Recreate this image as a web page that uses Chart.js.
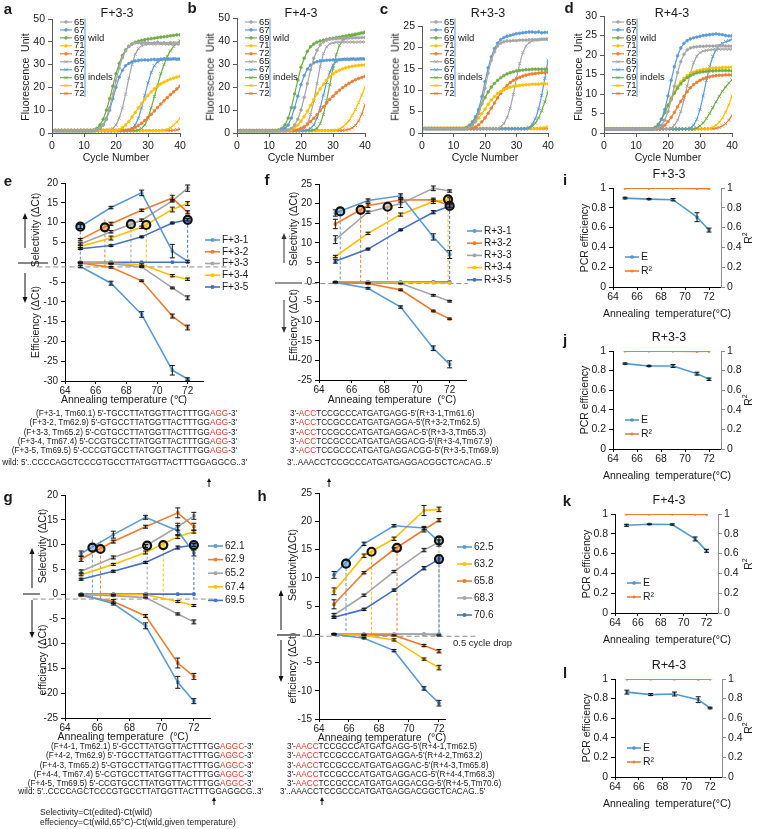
<!DOCTYPE html>
<html>
<head>
<meta charset="utf-8">
<title>Amplification, selectivity and efficiency</title>
<script src="https://cdn.jsdelivr.net/npm/chart.js@4.4.1/dist/chart.umd.min.js"></script>
<style>
  html, body { margin: 0; padding: 0; background: #fff; }
  body { position: relative; width: 757px; height: 829px; overflow: hidden;
         font-family: "Liberation Sans", Arial, sans-serif; color: #1a1a1a; }
  canvas { position: absolute; }
  .t { position: absolute; white-space: nowrap; line-height: 1; }
  .red { color: #E5332A; }
  svg.over { position: absolute; left: 0; top: 0; }
</style>
</head>
<body>
<script>
/* Multi-panel figure: qPCR curves (a-d), selectivity / efficiency vs annealing
   temperature (e-h), PCR efficiency and R2 (i-l). One Chart.js canvas per panel. */

// ---------------- data ----------------
var CYCLES = [1,2,3,4,5,6,7,8,9,10,11,12,13,14,15,16,17,18,19,20,21,22,23,24,25,26,27,28,29,30,31,32,33,34,35,36,37,38,39,40];
var AMP_TEMPS = ['65', '67', '69', '71', '72'];
var AMP_COLORS = ['#A5A5A5', '#5B9BD5', '#70AD47', '#FFC000', '#ED7D31'];

// a: F+3-3
var aWild65 = [1.1,1.1,1.1,1.1,1.1,1.1,1.1,1.1,1.1,1.1,1.1,1.1,1.2,1.4,2.1,3.6,6.5,11,17,23,28.5,33,36,38,39,39.5,39.6,39.4,39.7,39.5,39.3,39.5,39.8,39.4,39.6,39.3,39.6,39.5,39.3,39.5];
var aWild67 = [1,1,1,1,1,1,1,1,1,1,1,1,1,1.3,2,3.5,6,10,15,20,24.5,27.5,29.5,30.5,31.2,31.6,31.8,32,32.1,32,32.2,32.3,32.2,32.4,32.5,32.3,32.4,32.5,32.3,32.4];
var aWild69 = [1,1,1,1,1,1,1,1,1,1,1,1,1.3,2,3.5,6,10,15,20.5,26,30.5,34,36.5,38,39,39.8,40.3,40.6,40.9,41.2,41.4,41.6,41.8,42,42.2,42.4,42.6,42.8,43,43.1];
var aWild71 = [1.1,1.1,1.1,1.1,1.1,1.1,1.1,1.1,1.1,1.1,1.1,1.1,1.1,1.1,1.1,1.1,1.1,1.1,1.1,1.1,1.5,2.3,3.5,5,7,9,11,13,14.8,16.5,18,19.3,20.5,21.5,22.3,23,23.6,24.1,24.5,24.9];
var aWild72 = [1.2,1.2,1.2,1.2,1.2,1.2,1.2,1.2,1.2,1.2,1.2,1.2,1.2,1.2,1.2,1.2,1.2,1.2,1.2,1.2,1.2,1.2,1.2,1.4,1.8,2.5,3.3,4.3,5.5,6.8,8.2,9.7,11.2,12.7,14.1,15.5,16.8,18,19.3,20.5];
var aIndel65 = [1,1,1,1,1,1,1,1,1,1,1,1,1,1,1,1,1,1.3,2,3.5,6.5,11,17,24,30,34.5,37,38.3,38.8,39,39.2,39,39.1,39.2,39,38.9,39,39.1,38.9,39];
var aIndel67 = [1,1,1,1,1,1,1,1,1,1,1,1,1,1,1,1,1,1,1,1,1,1,1,1.3,2,3.5,6.5,11,16.5,22,26.5,29.5,31.2,32,32.3,32.5,32.4,32.5,32.6,32.5];
var aIndel69 = [1,1,1,1,1,1,1,1,1,1,1,1,1,1,1,1,1,1,1,1,1,1,1,1,1,1,1.3,2,3.5,6.5,11,16,21,26,30,33.5,36,38,39.5,40.5];
var aIndel71 = [1,1,1,1,1,1,1,1,1,1,1,1,1,1,1,1,1,1,1,1,1,1,1,1,1,1,1,1,1,1,1,1,1,1,1.2,1.6,2.3,3.4,4.8,6.5];
var aIndel72 = [1.1,1.1,1.1,1.1,1.1,1.1,1.1,1.1,1.1,1.1,1.1,1.1,1.1,1.1,1.1,1.1,1.1,1.1,1.1,1.1,1.1,1.1,1.1,1.1,1.1,1.1,1.1,1.1,1.1,1.1,1.1,1.1,1.1,1.1,1.1,1.1,1.1,1.2,1.4,1.7];

// b: F+4-3
var bWild65 = [1,1,1,1,1,1,1,1,1,1,1,1,1,1,1,1.3,2,3.5,6,10,15.5,21.5,27.5,32.5,36,38.3,39.6,40.3,40.7,40.9,41,41.1,41.2,41.2,41.3,41.3,41.4,41.4,41.5,41.5];
var bWild67 = [1,1,1,1,1,1,1,1,1,1,1,1,1,1.3,2,3.5,6.5,11,16,21,25,27.8,29.5,30.5,31,31.3,31.5,31.6,31.7,31.8,31.8,31.9,32,32,32,32.1,32,32.1,32.2,32.1];
var bWild69 = [1,1,1,1,1,1,1,1,1,1,1,1,1.3,2,3.5,6.5,11,17,23,28.5,32.5,35.5,37.5,38.7,39.5,40,40.4,40.7,41,41.2,41.5,41.7,42,42.2,42.5,42.7,43,43.2,43.5,43.8];
var bWild71 = [1,1,1,1,1,1,1,1,1,1,1,1,1,1,1,1,1.4,2.2,3.5,5.2,7.2,9.5,12,14.5,17,19.2,21.2,23,24.5,25.7,26.6,27.3,27.9,28.3,28.7,29,29.2,29.4,29.5,29.6];
var bWild72 = [1.1,1.1,1.1,1.1,1.1,1.1,1.1,1.1,1.1,1.1,1.1,1.1,1.1,1.1,1.1,1.1,1.1,1.1,1.4,2,2.8,3.8,5,6.4,8,9.7,11.4,13,14.6,16,17.4,18.6,19.7,20.7,21.6,22.4,23.1,23.7,24.2,24.6];
var bIndel65 = [1,1,1,1,1,1,1,1,1,1,1,1,1,1,1,1,1,1,1,1.3,2,4,8,14,21.5,29,34.5,37.5,38.8,39.2,39.4,39.5,39.5,39.6,39.5,39.6,39.5,39.6,39.6,39.6];
var bIndel67 = [1,1,1,1,1,1,1,1,1,1,1,1,1,1,1,1,1,1,1,1,1,1.3,2,3.5,6.5,11,16.5,22,26.5,29.5,31,31.8,32,32.2,32.2,32.3,32.2,32.3,32.3,32.3];
var bIndel69 = [1,1,1,1,1,1,1,1,1,1,1,1,1,1,1,1,1,1,1,1,1,1,1,1.3,2,4,8,14,21,28,34,38,40.3,41.3,41.8,42.2,42.6,43,43.4,43.8];
var bIndel71 = [1,1,1,1,1,1,1,1,1,1,1,1,1,1,1,1,1,1,1,1,1,1,1,1,1,1,1,1,1,1,1.3,1.8,2.6,3.8,5.4,7.6,10.2,13.2,16.5,19.8];
var bIndel72 = [1.1,1.1,1.1,1.1,1.1,1.1,1.1,1.1,1.1,1.1,1.1,1.1,1.1,1.1,1.1,1.1,1.1,1.1,1.1,1.1,1.1,1.1,1.1,1.1,1.1,1.1,1.1,1.1,1.1,1.1,1.1,1.1,1.1,1.3,1.6,2.2,3.3,5.2,8.2,12.3];

// c: R+3-3
var cWild65 = [1,1,1,1,1,1,1,1,1,1,1,1,1,1,1.3,1.8,2.8,4.5,7,10.5,14,17,19,20.3,21,21.3,21.5,21.5,21.6,21.6,21.7,21.7,21.7,21.8,21.8,21.8,21.8,21.9,21.9,21.9];
var cWild67 = [1,1,1,1,1,1,1,1,1,1,1,1,1,1,1.4,2.2,3.5,5.5,8.5,12,15.2,17.8,19.7,21,21.8,22.3,22.6,22.8,23,23.2,23.3,23.4,23.5,23.6,23.6,23.5,23.6,23.4,23.5,23.5];
var cWild69 = [1,1,1,1,1,1,1,1,1,1,1,1,1,1.3,1.8,2.6,3.8,5.2,6.8,8.3,9.6,10.7,11.6,12.3,12.9,13.4,13.8,14.1,14.3,14.5,14.6,14.7,14.8,14.8,14.9,14.9,14.9,14.9,14.9,14.9];
var cWild71 = [1.1,1.1,1.1,1.1,1.1,1.1,1.1,1.1,1.1,1.1,1.1,1.1,1.1,1.1,1.4,1.9,2.6,3.5,4.5,5.6,6.7,7.7,8.5,9.2,9.7,10.1,10.4,10.7,10.9,11,11.1,11.2,11.3,11.3,11.4,11.4,11.4,11.5,11.5,11.5];
var cWild72 = [1.1,1.1,1.1,1.1,1.1,1.1,1.1,1.1,1.1,1.1,1.1,1.1,1.1,1.1,1.1,1.1,1.4,1.9,2.6,3.5,4.6,5.8,7,8.2,9.3,10.3,11.1,11.8,12.3,12.7,13,13.3,13.5,13.7,13.8,13.9,14,14.1,14.1,14.2];
var cIndel65 = [1,1,1,1,1,1,1,1,1,1,1,1,1,1,1,1,1,1,1,1,1,1,1,1,1.4,2.2,3.6,5.8,9,12.8,16.2,18.8,20.3,21.1,21.5,21.7,21.8,21.9,21.9,22];
var cIndel67 = [1,1,1,1,1,1,1,1,1,1,1,1,1,1,1,1,1,1,1,1,1,1,1,1,1,1,1,1,1,1,1,1,1,1.3,2,3.3,5.6,8.8,12.8,17];
var cIndel69 = [1,1,1,1,1,1,1,1,1,1,1,1,1,1,1,1,1,1,1,1,1,1,1,1,1,1,1,1,1,1,1,1,1,1.2,1.6,2.3,3.5,5.2,7.3,9.7];
var cIndel71 = [1.1,1.1,1.1,1.1,1.1,1.1,1.1,1.1,1.1,1.1,1.1,1.1,1.1,1.1,1.1,1.1,1.1,1.1,1.1,1.1,1.1,1.1,1.1,1.1,1.1,1.1,1.1,1.1,1.1,1.1,1.1,1.1,1.1,1.1,1.1,1.1,1.1,1.2,1.3,1.5];
var cIndel72 = [1,1,1,1,1,1,1,1,1,1,1,1,1,1,1,1,1,1,1,1,1,1,1,1,1,1,1,1,1,1,1,1,1,1,1,1,1,1,1,1];

// d: R+4-3
var dWild65 = [1,1,1,1,1,1,1,1,1,1,1,1,1,1,1,1,1.3,2,3.3,5.5,8.5,12,15.5,18.3,20.2,21.3,21.8,22,22.1,22.2,22.2,22.3,22.3,22.3,22.3,22.4,22.4,22.3,22.3,22.3];
var dWild67 = [1,1,1,1,1,1,1,1,1,1,1,1,1,1,1,1.3,2,3.5,6,9.5,13.5,17,19.8,21.8,23,23.7,24.1,24.4,24.6,24.8,25,25.1,25.2,25.3,25.4,25.3,25.2,25,24.9,24.9];
var dWild69 = [1,1,1,1,1,1,1,1,1,1,1,1,1,1,1,1.4,2.2,3.5,5.2,7,8.7,10.2,11.5,12.6,13.5,14.2,14.7,15.1,15.4,15.6,15.7,15.8,15.9,15.9,16,16,16,16,16,15.9];
var dWild71 = [1.1,1.1,1.1,1.1,1.1,1.1,1.1,1.1,1.1,1.1,1.1,1.1,1.1,1.1,1.1,1.5,2.3,3.6,5.3,7.2,9,10.6,12,13.1,14,14.7,15.2,15.6,15.9,16.1,16.3,16.4,16.5,16.6,16.7,16.7,16.8,16.8,16.8,16.9];
var dWild72 = [1.1,1.1,1.1,1.1,1.1,1.1,1.1,1.1,1.1,1.1,1.1,1.1,1.1,1.1,1.1,1.1,1.1,1.4,2,2.9,4,5.3,6.7,8.1,9.4,10.6,11.6,12.4,13,13.5,13.9,14.2,14.4,14.6,14.7,14.8,14.8,14.9,14.9,14.9];
var dIndel65 = [1,1,1,1,1,1,1,1,1,1,1,1,1,1,1,1,1,1,1,1,1.3,2,3.3,5.5,8.5,12,15.3,18,19.7,20.6,21,21.2,21.3,21.4,21.4,21.5,21.5,21.5,21.5,21.5];
var dIndel67 = [1,1,1,1,1,1,1,1,1,1,1,1,1,1,1,1,1,1,1,1,1,1,1,1,1,1,1.3,2,3.5,6,9.5,13.5,17,19.6,21.3,22.4,23,23.4,23.7,24];
var dIndel69 = [1,1,1,1,1,1,1,1,1,1,1,1,1,1,1,1,1,1,1,1,1,1,1,1,1,1,1,1,1.3,1.8,2.6,3.7,5,6.5,8,9.4,10.7,11.8,12.8,13.6];
var dIndel71 = [1,1,1,1,1,1,1,1,1,1,1,1,1,1,1,1,1,1,1,1,1,1,1,1,1,1,1,1,1,1,1,1,1.2,1.5,2,2.8,3.9,5.3,7.2,9.5];
var dIndel72 = [1.1,1.1,1.1,1.1,1.1,1.1,1.1,1.1,1.1,1.1,1.1,1.1,1.1,1.1,1.1,1.1,1.1,1.1,1.1,1.1,1.1,1.1,1.1,1.1,1.1,1.1,1.1,1.1,1.1,1.1,1.1,1.1,1.1,1.1,1.2,1.4,1.8,2.4,3.3,4.5];

// e-h: selectivity (upper) and efficiency (lower), dCt vs annealing temperature
var TEMPS = [65, 67, 69, 71, 72];
var LBLUE = '#5B9BD5', ORANGE = '#ED7D31', GRAY = '#A5A5A5', YELLOW = '#FFC000', DBLUE = '#4472C4';
var SERIES5 = [LBLUE, ORANGE, GRAY, YELLOW, DBLUE];
var SERIES5H = [LBLUE, YELLOW, ORANGE, GRAY, DBLUE];

var eNames = ['F+3-1', 'F+3-2', 'F+3-3', 'F+3-4', 'F+3-5'];
var eSel = [[9.0, 13.8, 17.5, 2.8, 0.2], [5.7, 9.7, 13.1, 16.2, 12.6], [4.6, 7.7, 10.6, 15.5, 18.7], [4.0, 6.1, 8.8, 13.3, 14.8], [3.4, 4.2, 6.4, 9.9, 10.7]];
var eSelErr = [[0.5, 0.3, 0.7, 1.7, 0.3], [0.3, 0.4, 0.3, 0.7, 0.4], [0.3, 0.3, 0.3, 0.3, 0.8], [0.3, 0.5, 0.3, 0.6, 0.5], [0.2, 0.2, 0.2, 0.2, 0.3]];
var eEff = [[-1.1, -5.3, -13.2, -27.3, -29.5], [-0.2, -1.3, -4.7, -13.6, -16.5], [-0.1, -0.4, -1.2, -6.5, -9.0], [-0.1, -0.3, -0.6, -3.4, -4.3], [0, 0, 0, 0, 0]];
var eEffErr = [[0.3, 0.5, 0.7, 1.2, 0.3], [0.2, 0.2, 0.2, 0.5, 0.6], [0.1, 0.1, 0.1, 0.2, 0.5], [0.1, 0.1, 0.2, 0.3, 0.3], [0, 0, 0, 0, 0]];
var eMarkX = [65, 66.6, 68.3, 69.3, 72];
var eMarkY = [9.0, 8.8, 9.6, 9.4, 10.7];
var eGuideTop = [9.0, 10.8, 10.8, 10.8, 10.7];
var eDrop = -1.2;

var fNames = ['R+3-1', 'R+3-2', 'R+3-3', 'R+3-4', 'R+3-5'];
var fSel = [[17.6, 20.8, 22.0, 11.5, 7.0], [14.8, 19.5, 20.9, 21.0, 19.5], [10.8, 17.8, 20.0, 23.9, 23.2], [6.5, 12.4, 17.2, 20.5, 21.0], [5.3, 8.4, 13.3, 17.8, 19.4]];
var fSelErr = [[0.8, 0.4, 0.5, 0.8, 1.0], [1.2, 0.5, 0.5, 0.4, 0.6], [1.0, 0.3, 1.0, 0.6, 0.3], [0.3, 0.3, 0.4, 0.5, 0.5], [0.5, 0.2, 0.2, 0.4, 0.3]];
var fEff = [[-0.1, -1.6, -6.4, -16.9, -21.0], [-0.1, -0.4, -2.0, -7.4, -9.4], [0, -0.2, -0.4, -3.4, -4.9], [0, -0.1, -0.1, -0.2, -0.3], [0, 0, 0, 0, 0]];
var fEffErr = [[0.1, 0.2, 0.3, 0.6, 0.9], [0.1, 0.1, 0.2, 0.2, 0.2], [0.1, 0.1, 0.1, 0.2, 0.2], [0, 0, 0, 0, 0], [0, 0, 0, 0, 0]];
var fMarkX = [65.3, 66.55, 68.2, 71.9, 72];
var fMarkY = [18.0, 18.4, 19.2, 21.1, 19.4];
var fGuideTop = [18.0, 18.4, 19.2, 21.1, 19.4];
var fDrop = -0.4;

var gNames = ['62.1', '62.9', '65.2', '67.4', '69.5'];
var gSel = [[8.2, 12.0, 15.5, 12.8, 8.3], [7.1, 10.6, 13.6, 16.4, 13.6], [4.6, 7.4, 9.7, 13.6, 15.8], [3.9, 6.0, 8.4, 11.6, 12.6], [3.0, 4.6, 6.4, 9.4, 9.9]];
var gSelErr = [[0.5, 0.7, 0.4, 1.0, 0.6], [0.5, 0.3, 0.3, 1.0, 0.7], [0.3, 0.3, 0.3, 0.7, 0.7], [0.2, 0.2, 0.3, 0.4, 0.3], [0.2, 0.2, 0.2, 0.3, 0.3]];
var gEff = [[-0.1, -1.9, -6.4, -17.8, -21.6], [-0.3, -1.5, -4.4, -13.9, -16.6], [-0.1, -0.3, -0.7, -4.0, -5.6], [-0.1, -0.1, -0.1, -1.5, -2.3], [0, 0, 0, 0, 0]];
var gEffErr = [[0.1, 0.3, 0.6, 1.2, 0.5], [0.1, 0.4, 0.3, 1.0, 0.6], [0.1, 0.1, 0.1, 0.2, 0.4], [0.1, 0.1, 0.1, 0.2, 0.2], [0, 0, 0, 0, 0]];
var gMarkX = [65.7, 66.2, 69.1, 70.1, 72];
var gMarkY = [9.4, 9.1, 9.8, 9.9, 9.9];
var gGuideTop = [11, 10.8, 10.6, 10.2, 10.5];
var gDrop = -1;

var hNames = ['62.5', '63.2', '65.8', '68.3', '70.6'];
var hSel = [[10.5, 16.0, 19.2, 18.8, 16.4], [7.6, 13.9, 16.9, 21.9, 22.1], [5.3, 10.9, 15.0, 18.5, 20.2], [3.4, 6.9, 11.1, 14.9, 16.3], [3.0, 4.4, 7.8, 11.7, 13.3]];
var hSelErr = [[0.6, 0.3, 0.2, 0.3, 0.8], [0.6, 0.3, 0.3, 0.9, 0.4], [0.8, 0.2, 0.3, 0.4, 0.3], [0.3, 0.2, 0.2, 0.3, 0.4], [0.2, 0.2, 0.2, 0.3, 0.7]];
var hEff = [[0, -0.7, -2.9, -9.6, -12.2], [0, -0.2, -1.0, -4.4, -5.9], [0, -0.1, -0.2, -2.0, -3.0], [0, 0, 0, 0, -0.2], [0, 0, 0, 0, 0]];
var hEffErr = [[0.1, 0.1, 0.2, 0.3, 0.5], [0.1, 0.1, 0.2, 0.2, 0.4], [0.1, 0.1, 0.1, 0.2, 0.3], [0, 0, 0, 0, 0.1], [0, 0, 0, 0, 0]];
var hMarkX = [65.8, 67.5, 69.2, 72, 72];
var hMarkY = [12.5, 14.6, 15.3, 16.6, 13.3];
var hGuideTop = [13.5, 14.6, 15.3, 16.6, 13.3];
var hDrop = -0.35;

// i-l: PCR efficiency E (left axis) and R2 (right axis)
var iE = [0.898, 0.888, 0.882, 0.705, 0.575], iEerr = [0.008, 0.006, 0.012, 0.045, 0.02], iR2 = [0.997, 0.997, 0.997, 0.995, 0.994];
var jE = [0.871, 0.847, 0.847, 0.769, 0.712], jEerr = [0.006, 0.006, 0.015, 0.015, 0.012], jR2 = [0.998, 0.998, 0.998, 0.996, 0.997];
var kE = [0.886, 0.897, 0.894, 0.748, 0.628], kEerr = [0.01, 0.004, 0.006, 0.02, 0.015], kR2 = [0.998, 0.998, 0.998, 0.997, 0.995];
var lE = [0.866, 0.841, 0.847, 0.789, 0.704], lEerr = [0.02, 0.01, 0.02, 0.03, 0.008], lR2 = [0.998, 0.998, 0.998, 0.997, 0.998];

// primer sequences (red part = edited site)
var seqE = ["(F+3-1, Tm60.1) 5'-TGCCTTATGGTTACTTTGG[AGG]-3'", "(F+3-2, Tm62.9) 5'-GTGCCTTATGGTTACTTTGG[AGG]-3'", "(F+3-3, Tm65.2) 5'-CGTGCCTTATGGTTACTTTGG[AGG]-3'", "(F+3-4, Tm67.4) 5'-CCGTGCCTTATGGTTACTTTGG[AGG]-3'", "(F+3-5, Tm69.5) 5'-CCCGTGCCTTATGGTTACTTTGG[AGG]-3'"];
var seqF = ["3'-[ACC]TCCGCCCATGATGAGG-5'(R+3-1,Tm61.6)", "3'-[ACC]TCCGCCCATGATGAGGA-5'(R+3-2,Tm62.5)", "3'-[ACC]TCCGCCCATGATGAGGAC-5'(R+3-3,Tm65.3)", "3'-[ACC]TCCGCCCATGATGAGGACG-5'(R+3-4,Tm67.9)", "3'-[ACC]TCCGCCCATGATGAGGACGG-5'(R+3-5,Tm69.9)"];
var seqG = ["(F+4-1, Tm62.1) 5'-GCCTTATGGTTACTTTGG[AGGC]-3'", "(F+4-2, Tm62.9) 5'-TGCCTTATGGTTACTTTGG[AGGC]-3'", "(F+4-3, Tm65.2) 5'-GTGCCTTATGGTTACTTTGG[AGGC]-3'", "(F+4-4, Tm67.4) 5'-CGTGCCTTATGGTTACTTTGG[AGGC]-3'", "(F+4-5, Tm69.5) 5'-CCGTGCCTTATGGTTACTTTGG[AGGC]-3'"];
var seqH = ["3'-[AACC]TCCGCCCATGATGAGG-5'(R+4-1,Tm62.5)", "3'-[AACC]TCCGCCCATGATGAGGA-5'(R+4-2,Tm63.2)", "3'-[AACC]TCCGCCCATGATGAGGAC-5'(R+4-3,Tm65.8)", "3'-[AACC]TCCGCCCATGATGAGGACG-5'(R+4-4,Tm68.3)", "3'-[AACC]TCCGCCCATGATGAGGACGG-5'(R+4-5,Tm70.6)"];
var WILD_F = "wild: 5'..CCCCAGCTCCCGTGCCTTATGGTTACTTTGGAGGCG..3'";
var WILD_R = "3'..AAACCTCCGCCCATGATGAGGACGGCTCACAG..5'";

// ---------------- layout (page pixels of each plot area) ----------------
var P = {
  a: { l: 52, t: 19, r: 180, b: 133 },  b: { l: 237, t: 18, r: 365, b: 133 },
  c: { l: 422, t: 26, r: 548, b: 133 }, d: { l: 604, t: 16, r: 732, b: 133 },
  e: { l: 65, t: 183, r: 203, b: 381 }, f: { l: 319, t: 184, r: 466, b: 380 },
  g: { l: 65, t: 495, r: 210, b: 718 }, h: { l: 319, t: 493, r: 445, b: 719 },
  i: { l: 613, t: 188, r: 721, b: 287 }, j: { l: 613, t: 351, r: 721, b: 449 },
  k: { l: 615, t: 514, r: 718, b: 613 }, l: { l: 615, t: 679, r: 722, b: 777 }
};

Chart.defaults.font.family = "'Liberation Sans', Arial, sans-serif";
Chart.defaults.color = '#1a1a1a';

// ---------------- plugins ----------------
// black error bars from dataset.err
var errBars = {
  id: 'errBars',
  afterDatasetsDraw: function (chart) {
    var ctx = chart.ctx;
    ctx.save();
    ctx.strokeStyle = '#111';
    ctx.lineWidth = 1;
    chart.data.datasets.forEach(function (ds, i) {
      if (!ds.err) { return; }
      var meta = chart.getDatasetMeta(i);
      var ys = chart.scales[meta.yAxisID];
      meta.data.forEach(function (pt, j) {
        var e = ds.err[j];
        if (!e) { return; }
        var y1 = ys.getPixelForValue(ds.data[j] + e), y2 = ys.getPixelForValue(ds.data[j] - e);
        ctx.beginPath();
        ctx.moveTo(pt.x, y1); ctx.lineTo(pt.x, y2);
        ctx.moveTo(pt.x - 2.5, y1); ctx.lineTo(pt.x + 2.5, y1);
        ctx.moveTo(pt.x - 2.5, y2); ctx.lineTo(pt.x + 2.5, y2);
        ctx.stroke();
      });
    });
    ctx.restore();
  }
};

// line+marker key for datasets flagged with key:true; optional brackets (wild / indels)
var keyBox = {
  id: 'keyBox',
  afterDraw: function (chart, args, o) {
    if (!o || o.x == null) { return; }
    var ctx = chart.ctx;
    var x = o.x - chart.canvas.offsetLeft, y0 = o.y - chart.canvas.offsetTop;
    var items = chart.data.datasets.filter(function (d) { return d.key; });
    ctx.save();
    ctx.font = o.size + "px 'Liberation Sans', Arial, sans-serif";
    ctx.textBaseline = 'middle';
    items.forEach(function (d, i) {
      var y = y0 + i * o.dy;
      ctx.strokeStyle = d.borderColor;
      ctx.fillStyle = d.backgroundColor;
      ctx.lineWidth = d.borderWidth;
      ctx.beginPath(); ctx.moveTo(x, y); ctx.lineTo(x + o.len, y); ctx.stroke();
      ctx.lineWidth = d.pointBorderWidth || 1;
      Chart.helpers.drawPoint(ctx, { pointStyle: d.pointStyle, radius: d.pointRadius, borderWidth: d.pointBorderWidth || 1, rotation: 0 }, x + o.len / 2, y);
      ctx.fillStyle = '#1a1a1a';
      ctx.fillText(d.label, x + o.len + 2, y);
    });
    (o.groups || []).forEach(function (g) {
      var bx = x + o.bx;
      ctx.strokeStyle = '#5B9BD5';
      ctx.lineWidth = 1;
      ctx.beginPath();
      ctx.moveTo(bx, y0 + g[0] * o.dy - 3.5); ctx.lineTo(bx, y0 + g[1] * o.dy + 3.5);
      ctx.stroke();
      ctx.fillStyle = '#1a1a1a';
      ctx.fillText(g[2], bx + 3, y0 + (g[0] + g[1]) / 2 * o.dy);
    });
    ctx.restore();
  }
};

// ---------------- helpers ----------------
function placeCanvas(plot, m) {
  var c = document.createElement('canvas');
  c.width = plot.r - plot.l + m.l + m.r;
  c.height = plot.b - plot.t + m.t + m.b;
  c.style.left = (plot.l - m.l) + 'px';
  c.style.top = (plot.t - m.t) + 'px';
  document.body.appendChild(c);
  return c;
}

function keepEven(s) {
  s.ticks = s.ticks.filter(function (t) { return Math.abs(t.value % 2) < 1e-9; });
}

function plainNum(v) { return String(Math.round(v * 10) / 10); }

function tint(hex, a) {
  var n = parseInt(hex.slice(1), 16);
  return 'rgba(' + (n >> 16) + ',' + ((n >> 8) & 255) + ',' + (n & 255) + ',' + a + ')';
}

function axis(min, max, step, o) {
  o = o || {};
  var col = o.color || '#000';
  return {
    type: 'linear', position: o.pos, min: min, max: max,
    afterBuildTicks: o.even ? keepEven : undefined,
    ticks: { stepSize: step, includeBounds: false, callback: plainNum, color: '#1a1a1a',
      padding: o.pad == null ? 3 : o.pad, font: { size: o.size || 10.5 } },
    grid: { drawOnChartArea: false, tickLength: o.tick == null ? 4 : o.tick, color: col },
    border: { display: o.line !== false, color: col, width: 1 },
    afterFit: function (s) { if (s.isHorizontal()) { s.height = o.span; } else { s.width = o.span; } }
  };
}

function baseOpts(m, yl, yr, xh, scales, plugins) {
  return {
    responsive: false, animation: false, events: [],
    layout: { padding: { left: m.l - yl, top: m.t, right: m.r - yr, bottom: m.b - xh } },
    plugins: Object.assign({ legend: { display: false }, tooltip: { enabled: false } }, plugins),
    scales: scales
  };
}

// ---------------- a-d: amplification curves ----------------
function ampChart(plot, yMax, yStep, wild, indel) {
  var m = { l: 45, t: 12, r: 15, b: 22 };
  var cv = placeCanvas(plot, m);
  var sets = [];
  wild.forEach(function (v, i) {
    sets.push({ label: AMP_TEMPS[i], data: v, key: true, borderColor: AMP_COLORS[i], backgroundColor: AMP_COLORS[i],
      borderWidth: 1.2, pointStyle: 'circle', pointRadius: 1.4, pointBorderWidth: 0.6 });
  });
  indel.forEach(function (v, i) {
    sets.push({ label: AMP_TEMPS[i], data: v, key: true, borderColor: AMP_COLORS[i], backgroundColor: AMP_COLORS[i],
      borderWidth: 1.2, pointStyle: 'crossRot', pointRadius: 2.2, pointBorderWidth: 0.9 });
  });
  new Chart(cv, {
    type: 'line',
    data: { labels: CYCLES, datasets: sets },
    options: baseOpts(m, 30, 0, 20, {
      x: axis(0, 40, 10, { span: 20, color: '#595959' }),
      y: axis(0, yMax, yStep, { span: 30, color: '#595959' })
    }, { keyBox: { x: plot.l + 8, y: 22, dy: 7.95, len: 12, size: 9.5, bx: 25, groups: [[0, 4, 'wild'], [5, 9, 'indels']] } }),
    plugins: [keyBox]
  });
}

// ---------------- e-h: selectivity / efficiency ----------------
function series(name, v, err, color, key) {
  return { label: name, data: v, err: err, key: key, borderColor: color, backgroundColor: color,
    borderWidth: 1.6, pointStyle: 'rect', pointRadius: 1.8, pointBorderWidth: 1 };
}

function selChart(p) {
  var m = { l: 60, t: 10, r: 62, b: 24 };
  var cv = placeCanvas(p.plot, m);
  var sets = [];
  // chosen Tm points, ringed in black
  sets.push({ label: 'Tm', data: p.markX.map(function (x, i) { return { x: x, y: p.markY[i] }; }),
    showLine: false, clip: false, pointStyle: 'circle', pointRadius: 4, pointBorderWidth: 2.2,
    pointBorderColor: '#111', pointBackgroundColor: p.colors.map(function (c) { return tint(c, 0.55); }) });
  p.sel.forEach(function (v, i) { sets.push(series(p.names[i], v, p.selErr[i], p.colors[i], true)); });
  p.eff.forEach(function (v, i) { sets.push(series(p.names[i], v, p.effErr[i], p.colors[i], false)); });
  p.markX.forEach(function (x, i) {
    sets.push({ label: 'guide', data: [{ x: x, y: p.guideTop[i] }, { x: x, y: p.drop }], borderColor: p.colors[i],
      borderWidth: 1, borderDash: [3, 2], pointRadius: 0 });
  });
  sets.push({ label: 'drop', data: [{ x: p.dropFrom, y: p.drop }, { x: p.dropTo, y: p.drop }], borderColor: '#8c8c8c',
    borderWidth: 1, borderDash: [5, 3], pointRadius: 0, clip: false });
  new Chart(cv, {
    type: 'line',
    data: { labels: TEMPS, datasets: sets },
    options: baseOpts(m, 30, 0, 18, {
      x: axis(64, p.xMax, 2, { span: 18, even: true, tick: 3, pad: 1, size: 10 }),
      y: axis(p.yMin, p.yMax, 5, { span: 30, tick: 4, pad: 3, size: 10 })
    }, { keyBox: { x: p.key[0], y: p.key[1], dy: p.key[2], len: 15, size: 10 } }),
    plugins: [errBars, keyBox]
  });
}

// ---------------- i-l: PCR efficiency and R2 ----------------
function effChart(plot, E, Eerr, R2) {
  var m = { l: 40, t: 10, r: 35, b: 22 };
  var cv = placeCanvas(plot, m);
  new Chart(cv, {
    type: 'line',
    data: {
      labels: TEMPS,
      datasets: [
        { label: 'E', data: E, err: Eerr, key: true, yAxisID: 'y', borderColor: '#4E9AD0', backgroundColor: '#4E9AD0',
          borderWidth: 1.6, pointStyle: 'rect', pointRadius: 1.6, pointBorderWidth: 1 },
        { label: 'R\u00b2', data: R2, key: true, yAxisID: 'y1', borderColor: '#ED7D31', backgroundColor: '#ED7D31',
          borderWidth: 1.6, pointStyle: 'rect', pointRadius: 1.2, pointBorderWidth: 1 }
      ]
    },
    options: baseOpts(m, 30, 25, 18, {
      x: axis(64, 73, 2, { span: 18, even: true, tick: 3, pad: 1 }),
      y: axis(0, 1, 0.2, { span: 30, tick: 4, pad: 3 }),
      y1: axis(0, 1, 0.2, { span: 25, pos: 'right', tick: 4, pad: 2, color: '#8c8c8c' })
    }, { keyBox: { x: plot.l + 12, y: plot.t + 69, dy: 14, len: 14, size: 10.5 } }),
    plugins: [errBars, keyBox]
  });
}

// ---------------- text and decorations (HTML / SVG) ----------------
function label(html, x, y, o) {
  o = o || {};
  var d = document.createElement('div');
  d.className = 't';
  d.innerHTML = html;
  d.style.left = x + 'px';
  d.style.top = y + 'px';
  d.style.fontSize = (o.size || 10.5) + 'px';
  if (o.bold) { d.style.fontWeight = 'bold'; }
  if (o.color) { d.style.color = o.color; }
  var tx = o.align === 'l' ? '0' : (o.align === 'r' ? '-100%' : '-50%');
  d.style.transform = 'translate(' + tx + ',-50%)' + (o.rot ? ' rotate(-90deg)' : '');
  document.body.appendChild(d);
}

function redSeq(s) { return s.replace('[', '<span class="red">').replace(']', '</span>'); }

var svg = document.createElementNS('http://www.w3.org/2000/svg', 'svg');
svg.setAttribute('class', 'over');
svg.setAttribute('width', 757);
svg.setAttribute('height', 829);

function svgEl(tag, attrs) {
  var el = document.createElementNS('http://www.w3.org/2000/svg', tag);
  Object.keys(attrs).forEach(function (k) { el.setAttribute(k, attrs[k]); });
  svg.appendChild(el);
}
// vertical arrow, head at yHead
function arrow(x, yTail, yHead, hw, hl, color) {
  var dir = yHead < yTail ? 1 : -1;
  svgEl('line', { x1: x, y1: yTail, x2: x, y2: yHead + dir * hl * 0.8, stroke: color, 'stroke-width': 1 });
  svgEl('polygon', { points: x + ',' + yHead + ' ' + (x - hw) + ',' + (yHead + dir * hl) + ' ' + (x + hw) + ',' + (yHead + dir * hl), fill: color });
}
function hline(x1, x2, y, color, w) {
  svgEl('line', { x1: x1, y1: y, x2: x2, y2: y, stroke: color, 'stroke-width': w });
}

// ---------------- build ----------------
ampChart(P.a, 50, 10, [aWild65, aWild67, aWild69, aWild71, aWild72], [aIndel65, aIndel67, aIndel69, aIndel71, aIndel72]);
ampChart(P.b, 50, 10, [bWild65, bWild67, bWild69, bWild71, bWild72], [bIndel65, bIndel67, bIndel69, bIndel71, bIndel72]);
ampChart(P.c, 25, 5, [cWild65, cWild67, cWild69, cWild71, cWild72], [cIndel65, cIndel67, cIndel69, cIndel71, cIndel72]);
ampChart(P.d, 30, 5, [dWild65, dWild67, dWild69, dWild71, dWild72], [dIndel65, dIndel67, dIndel69, dIndel71, dIndel72]);

selChart({ plot: P.e, names: eNames, colors: SERIES5, sel: eSel, selErr: eSelErr, eff: eEff, effErr: eEffErr,
  markX: eMarkX, markY: eMarkY, guideTop: eGuideTop, drop: eDrop, dropFrom: 62.2, dropTo: 74.8,
  yMin: -30, yMax: 20, xMax: 73, key: [205, 240, 11.75] });
selChart({ plot: P.f, names: fNames, colors: SERIES5, sel: fSel, selErr: fSelErr, eff: fEff, effErr: fEffErr,
  markX: fMarkX, markY: fMarkY, guideTop: fGuideTop, drop: fDrop, dropFrom: 63.1, dropTo: 73.1,
  yMin: -25, yMax: 25, xMax: 73, key: [467, 231, 12.2] });
selChart({ plot: P.g, names: gNames, colors: SERIES5, sel: gSel, selErr: gSelErr, eff: gEff, effErr: gEffErr,
  markX: gMarkX, markY: gMarkY, guideTop: gGuideTop, drop: gDrop, dropFrom: 62.0, dropTo: 73.2,
  yMin: -25, yMax: 20, xMax: 73, key: [208, 546, 13.6] });
selChart({ plot: P.h, names: hNames, colors: SERIES5H, sel: hSel, selErr: hSelErr, eff: hEff, effErr: hEffErr,
  markX: hMarkX, markY: hMarkY, guideTop: hGuideTop, drop: hDrop, dropFrom: 62.9, dropTo: 74.5,
  yMin: -15, yMax: 25, xMax: 72.4, key: [457, 547, 17] });

effChart(P.i, iE, iEerr, iR2);
effChart(P.j, jE, jEerr, jR2);
effChart(P.k, kE, kEerr, kR2);
effChart(P.l, lE, lEerr, lR2);

// panel letters
[['a', 8, 8], ['b', 192, 7], ['c', 384, 8], ['d', 569, 7], ['e', 8, 180], ['f', 267, 179], ['g', 8, 496], ['h', 262, 495],
 ['i', 565, 179], ['j', 565, 339], ['k', 567, 500], ['l', 565, 672]].forEach(function (t) {
  label(t[0], t[1], t[2], { size: 15, bold: true });
});

// a-d titles and axis titles
[['F+3-3', 117, 116], ['F+4-3', 301, 301], ['R+3-3', 488, 485], ['R+4-3', 672, 668]].forEach(function (t) {
  label(t[0], t[1], 13, { size: 12.5 });
  label('Cycle Number', t[2], 157, { size: 10.5 });
});
[25, 210, 395, 578].forEach(function (x) { label('Fluorescence&nbsp; Unit', x, 77, { size: 10.5, rot: true }); });

// e-h axis titles
label('Selectivity (\u0394Ct)', 35, 230, { rot: true });
label('Efficiency (\u0394Ct)', 35, 322, { rot: true });
label('Annealing temperature (\u2103)', 124, 399);
label('Selectivity (\u0394Ct)', 293, 229, { rot: true });
label('Efficiency (\u0394Ct)', 293, 325, { rot: true });
label('Anneaing temperature&nbsp; (\u00b0C)', 392, 399);
label('Selectivity (\u0394Ct)', 42, 546, { rot: true });
label('efficiency (\u0394Ct)', 42, 660, { rot: true });
label('Annealing temperature&nbsp; (\u00b0C)', 123, 736);
label('Selectivity(\u0394Ct)', 292, 565, { rot: true });
label('efficiency (\u0394Ct)', 292, 668, { rot: true });
label('Anneaing temperature&nbsp; (\u00b0C)', 382, 737);
label('0.5 cycle drop', 453, 643, { size: 9.5, align: 'l' });

// i-l titles and axis titles
[['F+3-3', P.i], ['R+3-3', P.j], ['F+4-3', P.k], ['R+4-3', P.l]].forEach(function (t) {
  var pl = t[1], cy = (pl.t + pl.b) / 2;
  label(t[0], 669, pl.t - 14, { size: 12.5 });
  label('PCR efficiency', pl.l - 29, cy, { rot: true });
  label('R<sup style="font-size:7px">2</sup>', 747, cy, { rot: true });
  label('Annealing&nbsp; temperature(\u00b0C)', 667, pl.b + 26);
});

// sequences
var ROW = 9.3, SEQ = 8.2;
seqE.forEach(function (s, i) { label(redSeq(s), 237, 414 + i * ROW, { size: SEQ, align: 'r' }); });
label(WILD_F, 247, 463, { size: SEQ, align: 'r' });
seqF.forEach(function (s, i) { label(redSeq(s), 290, 414 + i * ROW, { size: SEQ, align: 'l' }); });
label(WILD_R, 287, 463, { size: SEQ, align: 'l' });
seqG.forEach(function (s, i) { label(redSeq(s), 253, 747 + i * ROW, { size: SEQ, align: 'r' }); });
label(WILD_F, 263, 792, { size: SEQ, align: 'r' });
seqH.forEach(function (s, i) { label(redSeq(s), 287, 747 + i * ROW, { size: SEQ, align: 'l' }); });
label(WILD_R, 280, 792, { size: SEQ, align: 'l' });
label('Selectivity=Ct(edited)-Ct(wild)', 40, 812, { size: 8.5, align: 'l' });
label('effeciency=Ct(wild,65\u00b0C)-Ct(wild,given temperature)', 40, 822, { size: 8.5, align: 'l' });

// arrows and zero separators beside the e-h y axes
arrow(25, 248, 213, 2.5, 6, '#111'); hline(18, 48, 263, '#111', 1); arrow(25, 273, 303, 2.5, 6, '#111');
arrow(284, 263, 233, 2.5, 6, '#333'); hline(275, 302, 283, '#333', 1); arrow(284, 300, 333, 2.5, 6, '#333');
arrow(32, 588, 548, 2.5, 6, '#111'); hline(23, 40, 594, '#111', 1); arrow(32, 600, 638, 2.5, 6, '#111');
arrow(281, 630, 590, 2.5, 6, '#111'); hline(277, 300, 635, '#777', 2); arrow(281, 640, 682, 2.5, 6, '#111');
// site arrows under the wild-type sequences
arrow(209, 487, 478, 2, 4, '#111');
arrow(329, 487, 478, 2, 4, '#111');
arrow(214, 805, 797, 2, 4, '#111');
arrow(322, 805, 797, 2, 4, '#111');
document.body.appendChild(svg);
</script>
</body>
</html>
